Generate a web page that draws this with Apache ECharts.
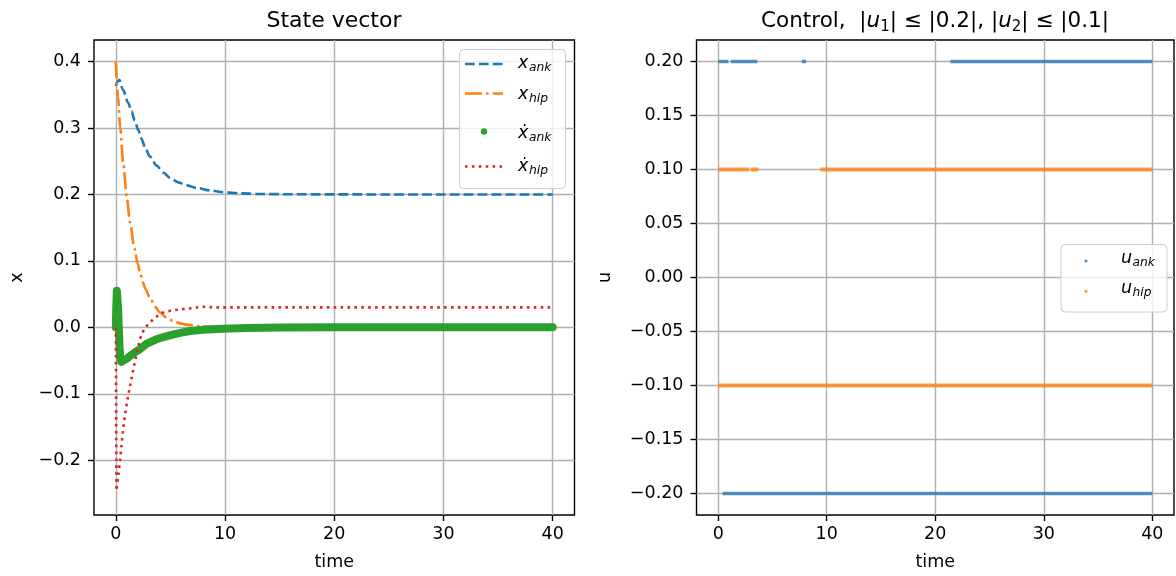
<!DOCTYPE html>
<html><head><meta charset="utf-8">
<script src="https://cdn.jsdelivr.net/npm/echarts@6/dist/echarts.min.js"></script>
<style>html,body{margin:0;padding:0;background:#fff}#c{width:1176px;height:576px}</style>
</head><body><div id="c"></div>
<script>
// ---------- data ----------
const timeTicks = [0, 10, 20, 30, 40];
const stateTicks = [-0.2, -0.1, 0.0, 0.1, 0.2, 0.3, 0.4];
const controlTicks = [-0.2, -0.15, -0.1, -0.05, 0, 0.05, 0.1, 0.15, 0.2];

const xAnkT = [0, 0.15, 0.31, 0.67, 1.13, 1.44, 1.74, 2.05, 2.36, 2.66, 3.12, 3.73, 4.34, 4.95, 5.72, 6.48, 7.4, 8.62, 9.8, 11.4, 13, 16, 20, 25, 30, 40];
const xAnkV = [0.363, 0.370, 0.3725, 0.357, 0.338, 0.325, 0.311, 0.297, 0.2835, 0.2715, 0.2570, 0.2435, 0.2330, 0.2252, 0.2182, 0.2137, 0.2098, 0.2062, 0.2035, 0.2017, 0.2008, 0.2003, 0.2001, 0.2, 0.2, 0.2];

const xHipT = [0, 0.2, 0.4, 0.67, 1.0, 1.3, 1.7, 2.0, 2.2, 2.5, 2.7, 3.1, 3.6, 4.0, 4.6, 5.3, 6.0, 6.5, 7.5, 9, 11, 40];
const xHipV = [0.400, 0.347, 0.300, 0.248, 0.196, 0.158, 0.119, 0.096, 0.083, 0.067, 0.058, 0.045, 0.031, 0.023, 0.015, 0.009, 0.0055, 0.004, 0.002, 0.0006, 0, 0];

const xdotAnkT = [0, 0.04, 0.09, 0.14, 0.2, 0.27, 0.34, 0.42, 0.5, 0.65, 1.0, 1.3, 1.7, 2.2, 2.8, 3.7, 4.5, 5.3, 6.0, 6.8, 8, 9.8, 12, 15, 20, 40];
const xdotAnkV = [0.0, 0.03, 0.055, 0.052, 0.03, 0.0, -0.03, -0.048, -0.052, -0.051, -0.047, -0.043, -0.038, -0.033, -0.025, -0.018, -0.014, -0.0105, -0.008, -0.0055, -0.0035, -0.002, -0.001, -0.0004, 0, 0];

const xdotHipT = [0, 0.02, 0.04, 0.06, 0.1, 0.21, 0.37, 0.67, 0.9, 1.13, 1.6, 2.2, 2.6, 3.1, 3.6, 4.3, 5.0, 5.9, 7.0, 8.0, 9, 40];
const xdotHipV = [0.0, -0.1, -0.2, -0.246, -0.245, -0.224, -0.203, -0.153, -0.125, -0.103, -0.063, -0.018, -0.002, 0.007, 0.015, 0.022, 0.025, 0.027, 0.029, 0.031, 0.030, 0.030];

// control: levels and the time intervals where samples sit on that level
const uAnkLevels = [0.2, -0.2];
const uAnkIntervals = [[[0, 0.94], [1.17, 3.6], [7.7, 8.1], [21.4, 40]], [[0.4, 40]]];
const uHipLevels = [0.1, -0.1];
const uHipIntervals = [[[0, 2.85], [3.0, 3.7], [9.4, 40]], [[0, 40]]];

// ---------- helpers ----------
const FONT = 'DejaVu Sans';
const FS = 17.5;
const zip = (t, v) => t.map((x, i) => [x, v[i]]);
function segData(levels, intervals) {
  const out = [];
  levels.forEach((lv, k) => {
    intervals[k].forEach(([a, b]) => { out.push([a, lv], [b, lv], [b, '-']); });
  });
  return out;
}
const minus = s => s.replace('-', '\u2212');

function xAxisCfg(idx) {
  return {
    type: 'value', gridIndex: idx, min: -2, max: 42,
    name: 'time', nameLocation: 'middle', nameGap: 47,
    nameTextStyle: { fontFamily: FONT, fontSize: FS, color: '#000', verticalAlign: 'middle' },
    axisLine: { show: false, onZero: false },
    axisTick: { show: true, inside: false, length: 6, customValues: timeTicks, lineStyle: { color: '#000', width: 1.4 } },
    axisLabel: { customValues: timeTicks, margin: 10, fontFamily: FONT, fontSize: FS, color: '#000', formatter: v => minus(String(v)) },
    splitLine: { show: true, lineStyle: { color: '#b0b0b0', width: 1.4 } }
  };
}
function yAxisCfg(idx, min, max, ticks, dec, name, gap) {
  return {
    type: 'value', gridIndex: idx, min: min, max: max,
    name: name, nameLocation: 'middle', nameGap: gap, nameRotate: 90,
    nameTextStyle: { fontFamily: FONT, fontSize: FS, color: '#000', verticalAlign: 'middle' },
    axisLine: { show: false, onZero: false },
    axisTick: { show: true, inside: false, length: 6, customValues: ticks, lineStyle: { color: '#000', width: 1.4 } },
    axisLabel: { customValues: ticks, margin: 13, fontFamily: FONT, fontSize: FS, color: '#000', formatter: v => minus(v.toFixed(dec)) },
    splitLine: { show: true, lineStyle: { color: '#b0b0b0', width: 1.4 } }
  };
}

function mathLabel(x, cy, base, sub, baseW) {
  return [
    { type: 'text', z: 101, x: x, y: cy, style: { text: base, fontFamily: FONT, fontStyle: 'italic', fontSize: FS, fill: '#000', verticalAlign: 'middle', align: 'left' } },
    { type: 'text', z: 101, x: x + baseW, y: cy + 5.3, style: { text: sub, fontFamily: FONT, fontStyle: 'italic', fontSize: 12.3, fill: '#000', verticalAlign: 'middle', align: 'left' } }
  ];
}

const C = { blue: '#1f77b4', orange: '#ff7f0e', green: '#2ca02c', red: '#d62728' };
const DASH = [9.7, 4.2], DASHDOT = [16.8, 4.2, 2.6, 4.2], DOT = [2.6, 4.3];

const graphics = [
  // titles
  { type: 'text', x: 334, y: 21, style: { text: 'State vector', fontFamily: FONT, fontSize: 22, fill: '#000', align: 'center', verticalAlign: 'middle' } },
  { type: 'text', x: 935, y: 21, style: {
      text: '{n|Control,  |}{i|u}{s|1}{n|| \u2264 |0.2|, |}{i|u}{s|2}{n|| \u2264 |0.1|}',
      align: 'center', verticalAlign: 'middle',
      rich: {
        n: { fontFamily: FONT, fontSize: 21.5, fill: '#000', lineHeight: 28, verticalAlign: 'middle' },
        i: { fontFamily: FONT, fontSize: 21.5, fontStyle: 'italic', fill: '#000', lineHeight: 28, verticalAlign: 'middle' },
        s: { fontFamily: FONT, fontSize: 15, fill: '#000', lineHeight: 28, verticalAlign: 'bottom' }
      } } },
  // left legend
  { type: 'rect', z: 100, shape: { x: 459.5, y: 49.5, width: 106, height: 139, r: 4 }, style: { fill: 'rgba(255,255,255,0.8)', stroke: '#cccccc', lineWidth: 1 } },
  { type: 'line', z: 101, shape: { x1: 465, y1: 64, x2: 503, y2: 64 }, style: { stroke: C.blue, lineWidth: 2.6, lineDash: DASH } },
  { type: 'line', z: 101, shape: { x1: 465, y1: 93.5, x2: 503, y2: 93.5 }, style: { stroke: C.orange, lineWidth: 2.6, lineDash: DASHDOT } },
  { type: 'circle', z: 101, shape: { cx: 484, cy: 131.5, r: 3.2 }, style: { fill: C.green } },
  { type: 'line', z: 101, shape: { x1: 465, y1: 166.5, x2: 503, y2: 166.5 }, style: { stroke: C.red, lineWidth: 2.6, lineDash: DOT } },
  ...mathLabel(518, 63, 'x', 'ank', 11),
  ...mathLabel(518, 94, 'x', 'hip', 11),
  ...mathLabel(518, 133, '\u1E8B', 'ank', 11),
  ...mathLabel(518, 166, '\u1E8B', 'hip', 11),
  // right legend
  { type: 'rect', z: 100, shape: { x: 1061, y: 244.5, width: 106, height: 67.5, r: 4 }, style: { fill: 'rgba(255,255,255,0.8)', stroke: '#cccccc', lineWidth: 1 } },
  { type: 'circle', z: 101, shape: { cx: 1086, cy: 261, r: 1.6 }, style: { fill: C.blue, opacity: 0.8 } },
  { type: 'circle', z: 101, shape: { cx: 1086, cy: 291.3, r: 1.6 }, style: { fill: C.orange, opacity: 0.8 } },
  ...mathLabel(1121, 258, 'u', 'ank', 11.5),
  ...mathLabel(1121, 288, 'u', 'hip', 11.5)
];

const chart = echarts.init(document.getElementById('c'), null, { renderer: 'canvas' });
chart.setOption({
  animation: false,
  backgroundColor: '#fff',
  grid: [
    { left: 94, top: 40, width: 480.5, height: 476.6, show: true, borderColor: '#000', borderWidth: 1.4, backgroundColor: 'transparent' },
    { left: 696.5, top: 40, width: 477.5, height: 476.6, show: true, borderColor: '#000', borderWidth: 1.4, backgroundColor: 'transparent' }
  ],
  xAxis: [xAxisCfg(0), xAxisCfg(1)],
  yAxis: [
    yAxisCfg(0, -0.2825, 0.4325, stateTicks, 1, 'x', 77),
    yAxisCfg(1, -0.22, 0.22, controlTicks, 2, 'u', 91)
  ],
  series: [
    { name: 'x_ank', type: 'line', xAxisIndex: 0, yAxisIndex: 0, data: zip(xAnkT, xAnkV), showSymbol: false, smooth: 0.3, smoothMonotone: 'x',
      lineStyle: { color: C.blue, width: 2.6, type: DASH } },
    { name: 'x_hip', type: 'line', xAxisIndex: 0, yAxisIndex: 0, data: zip(xHipT, xHipV), showSymbol: false, smooth: 0.3, smoothMonotone: 'x',
      lineStyle: { color: C.orange, width: 2.6, type: DASHDOT } },
    { name: 'xdot_ank', type: 'line', xAxisIndex: 0, yAxisIndex: 0, data: zip(xdotAnkT, xdotAnkV), showSymbol: false,
      lineStyle: { color: C.green, width: 8, cap: 'round', join: 'round' } },
    { name: 'xdot_hip', type: 'line', xAxisIndex: 0, yAxisIndex: 0, data: zip(xdotHipT, xdotHipV), showSymbol: false,
      lineStyle: { color: C.red, width: 2.6, type: DOT } },
    { name: 'u_ank', type: 'line', xAxisIndex: 1, yAxisIndex: 1, data: segData(uAnkLevels, uAnkIntervals), showSymbol: false, connectNulls: false,
      lineStyle: { color: C.blue, width: 3.5, opacity: 0.75 } },
    { name: 'u_hip', type: 'line', xAxisIndex: 1, yAxisIndex: 1, data: segData(uHipLevels, uHipIntervals), showSymbol: false, connectNulls: false,
      lineStyle: { color: C.orange, width: 4, opacity: 0.75 } }
  ],
  graphic: graphics
});
</script>
</body></html>
